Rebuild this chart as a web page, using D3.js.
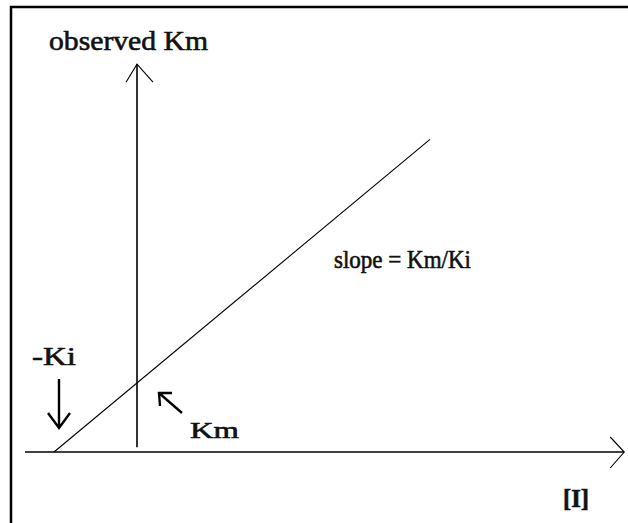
<!DOCTYPE html>
<html>
<head>
<meta charset="utf-8">
<script src="https://cdn.jsdelivr.net/npm/d3@7"></script>
<style>
  html, body { margin: 0; padding: 0; background: #fff; }
  svg { display: block; }
  text { font-family: "Liberation Serif", "Times New Roman", serif; fill: #111; stroke: #111; stroke-width: 0.6px; }
</style>
</head>
<body>
<svg id="chart" width="628" height="523"></svg>
<script>
// ---- data (in units of Ki for [I] and Km for observed Km) ----
const inhibitorConc = [-1, 3.53];          // [I] / Ki
const observedKm    = [0, 4.53];           // Km_obs / Km = 1 + [I]/Ki
const xAxisExtent   = [-1.35, 5.87];       // [I] axis range
const yAxisExtent   = [0.07, 5.62];        // observed Km axis range
const axisLabels    = ["observed Km", "[I]"];
const annotations   = ["slope = Km/Ki", "-Ki", "Km"];

const svg = d3.select("#chart");
const x = d3.scaleLinear().domain([0, 1]).range([137, 220]);
const y = d3.scaleLinear().domain([0, 1]).range([452, 383]);

// frame (only left and top visible)
svg.append("rect").attr("x", 11).attr("y", 7).attr("width", 640).attr("height", 540)
  .attr("fill", "none").attr("stroke", "#000").attr("stroke-width", 2.5);

// x axis with open arrowhead
const xTip = x(xAxisExtent[1]);
svg.append("line").attr("x1", x(xAxisExtent[0])).attr("x2", xTip)
  .attr("y1", y(0)).attr("y2", y(0)).attr("stroke", "#000").attr("stroke-width", 1.6);
svg.append("path").attr("d", `M${xTip - 14},${y(0) - 15} L${xTip},${y(0)} L${xTip - 14},${y(0) + 16}`)
  .attr("fill", "none").attr("stroke", "#000").attr("stroke-width", 1.1);

// y axis with open arrowhead
const yTip = y(yAxisExtent[1]);
svg.append("line").attr("x1", x(0)).attr("x2", x(0))
  .attr("y1", y(yAxisExtent[0])).attr("y2", yTip).attr("stroke", "#000").attr("stroke-width", 1.6);
svg.append("path").attr("d", `M${x(0) - 11},${yTip + 18} L${x(0)},${yTip} L${x(0) + 16},${yTip + 18}`)
  .attr("fill", "none").attr("stroke", "#000").attr("stroke-width", 1.1);

// the line
const line = d3.line().x((d, i) => x(inhibitorConc[i])).y(d => y(d));
svg.append("path").datum(observedKm).attr("d", line)
  .attr("fill", "none").attr("stroke", "#000").attr("stroke-width", 1.1);

// labels
svg.append("text").attr("x", 49).attr("y", 50).attr("font-size", 27)
  .attr("textLength", 159).attr("lengthAdjust", "spacingAndGlyphs").text(axisLabels[0]);
svg.append("text").attr("x", 563).attr("y", 507).attr("font-size", 25).attr("font-weight", "bold")
  .attr("textLength", 26).attr("lengthAdjust", "spacingAndGlyphs").text(axisLabels[1]);
svg.append("text").attr("x", 334).attr("y", 268).attr("font-size", 25)
  .attr("textLength", 137).attr("lengthAdjust", "spacingAndGlyphs").text(annotations[0]);
svg.append("text").attr("x", 32).attr("y", 365).attr("font-size", 26)
  .attr("textLength", 44).attr("lengthAdjust", "spacingAndGlyphs").text(annotations[1]);
svg.append("text").attr("x", 190).attr("y", 438).attr("font-size", 23)
  .attr("textLength", 49).attr("lengthAdjust", "spacingAndGlyphs").text(annotations[2]);

// arrow pointing down at -Ki
const kiX = x(inhibitorConc[0]) + 5;
svg.append("path").attr("d", `M${kiX},379 L${kiX},428 M${kiX - 11},413 L${kiX},428 L${kiX + 11},413`)
  .attr("fill", "none").attr("stroke", "#000").attr("stroke-width", 2.4);

// arrow pointing toward Km intercept
const kmX = x(0) + 22, kmY = y(1) + 10;
svg.append("path").attr("d", `M${kmX + 23},${kmY + 20} L${kmX},${kmY} M${kmX + 13},${kmY} L${kmX},${kmY} L${kmX + 1},${kmY + 13}`)
  .attr("fill", "none").attr("stroke", "#000").attr("stroke-width", 2.4);
</script>
</body>
</html>
